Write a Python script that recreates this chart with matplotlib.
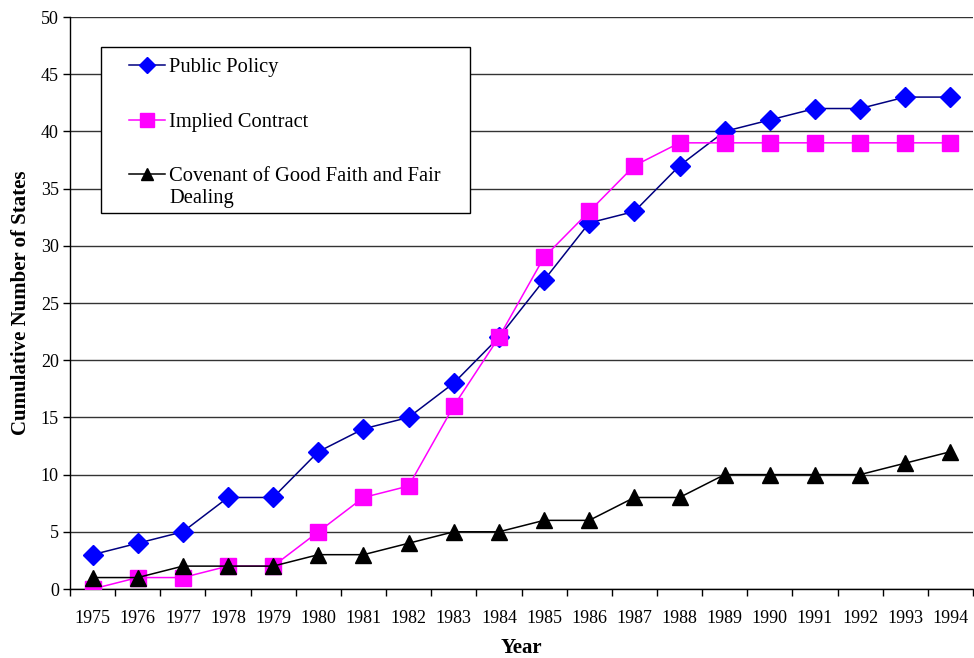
import numpy as np
import matplotlib.pyplot as plt
from matplotlib.patches import Rectangle

plt.rcParams['font.family'] = ['Liberation Serif', 'DejaVu Serif']

years = list(range(1975, 1995))
public_policy = [3, 4, 5, 8, 8, 12, 14, 15, 18, 22, 27, 32, 33, 37, 40, 41, 42, 42, 43, 43]
implied_contract = [0, 1, 1, 2, 2, 5, 8, 9, 16, 22, 29, 33, 37, 39, 39, 39, 39, 39, 39, 39]
good_faith = [1, 1, 2, 2, 2, 3, 3, 4, 5, 5, 6, 6, 8, 8, 10, 10, 10, 10, 11, 12]

W, H = 974, 658
fig = plt.figure(figsize=(W / 100, H / 100), dpi=100)
ax = fig.add_axes([70 / W, (H - 589) / H, 903 / W, 572 / H])

x = np.arange(len(years))
ax.plot(x, public_policy, color='#000080', lw=1.1, marker='D', ms=10,
        mfc='#0000FF', mec='#0000FF', label='Public Policy', zorder=3)
ax.plot(x, implied_contract, color='#FF00FF', lw=1.1, marker='s', ms=11.5,
        mfc='#FF00FF', mec='#FF00FF', label='Implied Contract', zorder=4)
ax.plot(x, good_faith, color='black', lw=1.1, marker='^', ms=11,
        mfc='black', mec='black',
        label='Covenant of Good Faith and Fair', zorder=5)

ax.set_xlim(-0.5, len(years) - 0.5)
ax.set_ylim(0, 50)
ax.set_yticks(np.arange(0, 51, 5))
ax.yaxis.grid(True, color='#333333', lw=1)
ax.set_axisbelow(True)

ax.set_xticks(x)
ax.set_xticklabels([str(y) for y in years])
ax.set_xticks(np.arange(-0.5, len(years), 1), minor=True)
ax.tick_params(axis='x', which='major', length=0, pad=15, labelsize=13)
ax.tick_params(axis='x', which='minor', length=5, width=1)
ax.tick_params(axis='y', length=5, width=1, labelsize=13, pad=3)

for s in ['top', 'right']:
    ax.spines[s].set_visible(False)
for s in ['left', 'bottom']:
    ax.spines[s].set_linewidth(1)

ax.set_xlabel('Year', fontsize=15, fontweight='bold', labelpad=8)
ax.set_ylabel('Cumulative Number of States', fontsize=15, fontweight='bold', labelpad=7)

# legend box drawn separately so the entries can sit like the original
box = Rectangle((101 / W, 1 - 213 / H), 369 / W, 166 / H, transform=fig.transFigure,
                facecolor='white', edgecolor='black', lw=1, zorder=6, clip_on=False)
ax.add_patch(box)

leg = ax.legend(loc='upper left', bbox_to_anchor=(129 / W, 1 - 58 / H),
                bbox_transform=fig.transFigure, fontsize=14.8, frameon=False,
                labelspacing=1.7, handlelength=1.75, handletextpad=0.2,
                borderpad=0, borderaxespad=0, markerscale=0.85)
leg.set_zorder(7)

fig.canvas.draw()
tb = leg.get_texts()[2].get_window_extent()
ax.text(tb.x0 / W, (H - 198) / H, 'Dealing', fontsize=14.8, va='center', ha='left',
        transform=fig.transFigure, zorder=8)

fig.savefig('out.png', dpi=100)
